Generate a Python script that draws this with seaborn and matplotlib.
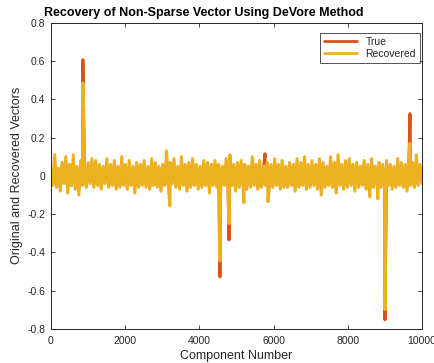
import numpy as np
import pandas as pd
import matplotlib
matplotlib.use("Agg")
import matplotlib.pyplot as plt
import seaborn as sns

# background noise, one value per ~50 components
true_noise = [
    0.02, -0.04, 0.05, -0.05, 0.03, -0.06, 0.05, -0.03, 0.06, -0.05,
    0.04, -0.05, 0.06, -0.04, 0.03, -0.06, 0.05, -0.04, 0.03, -0.05,
    0.05, -0.03, 0.06, -0.05, 0.05, -0.04, 0.04, -0.06, 0.03, -0.03,
    0.05, -0.05, 0.04, -0.04, 0.06, -0.05, 0.03, -0.05, 0.05, -0.04,
    0.04, -0.06, 0.05, -0.03, 0.04, -0.05, 0.05, -0.05, 0.04, -0.04,
    0.06, -0.04, 0.03, -0.06, 0.05, -0.04, 0.05, -0.05, 0.03, -0.06,
    0.04, -0.04, 0.06, -0.05, 0.05, -0.03, 0.06, -0.05, 0.04, -0.05,
    0.05, -0.04, 0.04, -0.06, 0.05, -0.05, 0.06, -0.04, 0.04, -0.05,
    0.03, -0.05, 0.05, -0.04, 0.05, -0.06, 0.04, -0.04, 0.06, -0.05,
    0.04, -0.05, 0.03, -0.04, 0.06, -0.05, 0.05, -0.04, 0.04, -0.06,
    0.05, -0.05, 0.06, -0.04, 0.04, -0.05, 0.03, -0.05, 0.06, -0.04,
    0.04, -0.06, 0.05, -0.05, 0.03, -0.04, 0.05, -0.06, 0.04, -0.05,
    0.06, -0.04, 0.04, -0.05, 0.05, -0.05, 0.03, -0.05, 0.05, -0.04,
    0.04, -0.06, 0.06, -0.05, 0.05, -0.04, 0.06, -0.05, 0.04, -0.05,
    0.05, -0.04, 0.04, -0.06, 0.06, -0.05, 0.05, -0.05, 0.03, -0.04,
    0.06, -0.05, 0.05, -0.06, 0.06, -0.04, 0.04, -0.05, 0.05, -0.05,
    0.06, -0.04, 0.04, -0.06, 0.05, -0.05, 0.03, -0.04, 0.05, -0.05,
    0.04, -0.06, 0.06, -0.05, 0.03, -0.04, 0.05, -0.05, 0.04, -0.05,
    0.05, -0.04, 0.04, -0.05, 0.03, -0.05, 0.06, -0.04, 0.05, -0.05,
    0.04, -0.06, 0.06, -0.04, 0.05, -0.05, 0.06, -0.04, 0.04, -0.03,
]
rec_noise = [
    0.03, -0.05, 0.11, -0.06, 0.04, -0.08, 0.07, -0.04, 0.10, -0.09,
    0.06, -0.05, 0.11, -0.07, 0.05, -0.10, 0.08, -0.05, 0.04, -0.06,
    0.07, -0.04, 0.09, -0.06, 0.08, -0.05, 0.06, -0.07, 0.05, -0.04,
    0.09, -0.06, 0.06, -0.05, 0.08, -0.07, 0.05, -0.06, 0.10, -0.05,
    0.06, -0.07, 0.08, -0.05, 0.05, -0.09, 0.07, -0.06, 0.06, -0.05,
    0.08, -0.06, 0.05, -0.07, 0.09, -0.05, 0.07, -0.06, 0.05, -0.08,
    0.06, -0.05, 0.13, -0.06, 0.07, -0.04, 0.09, -0.06, 0.05, -0.07,
    0.10, -0.05, 0.06, -0.08, 0.07, -0.06, 0.09, -0.05, 0.06, -0.07,
    0.05, -0.06, 0.08, -0.05, 0.07, -0.09, 0.06, -0.05, 0.08, -0.06,
    0.06, -0.07, 0.05, -0.05, 0.09, -0.06, 0.11, -0.05, 0.06, -0.08,
    0.07, -0.06, 0.08, -0.05, 0.06, -0.07, 0.05, -0.06, 0.10, -0.05,
    0.06, -0.07, 0.08, -0.06, 0.05, -0.05, 0.07, -0.08, 0.06, -0.06,
    0.09, -0.05, 0.06, -0.07, 0.08, -0.06, 0.05, -0.06, 0.07, -0.05,
    0.06, -0.08, 0.09, -0.06, 0.07, -0.05, 0.10, -0.07, 0.06, -0.06,
    0.08, -0.05, 0.06, -0.07, 0.09, -0.10, 0.07, -0.06, 0.05, -0.05,
    0.10, -0.06, 0.07, -0.09, 0.11, -0.05, 0.06, -0.07, 0.08, -0.06,
    0.09, -0.05, 0.06, -0.08, 0.07, -0.06, 0.05, -0.05, 0.08, -0.07,
    0.06, -0.11, 0.09, -0.06, 0.05, -0.05, 0.07, -0.06, 0.06, -0.07,
    0.08, -0.05, 0.06, -0.07, 0.05, -0.06, 0.09, -0.05, 0.07, -0.06,
    0.06, -0.08, 0.10, -0.05, 0.07, -0.06, 0.11, -0.05, 0.06, -0.04,
]

# large entries (component index, true value, recovered value)
spike_pos = [862, 3207, 4555, 4800, 5200, 5770, 5850, 8810, 9003, 9677]
spike_true = [0.607, -0.05, -0.528, -0.335, -0.05, 0.115, -0.05, -0.05, -0.752, 0.325]
spike_rec = [0.486, -0.157, -0.444, -0.25, -0.14, 0.05, -0.135, -0.12, -0.70, 0.17]

C_TRUE = "#D95319"
C_REC = "#EDB120"
INK = "#262626"

sns.set_theme(style="white")
plt.rcParams["font.family"] = ["Liberation Sans", "DejaVu Sans"]

x = np.concatenate([np.linspace(1, 10000, len(true_noise)), spike_pos])
order = np.argsort(x, kind="stable")
df = pd.DataFrame({
    "comp": x[order],
    "true": np.concatenate([true_noise, spike_true])[order],
    "rec": np.concatenate([rec_noise, spike_rec])[order],
})

fig = plt.figure(figsize=(4.35, 3.63), dpi=100)
ax = fig.add_axes([0.117, 0.094, 0.853, 0.843])

sns.lineplot(data=df, x="comp", y="true", color=C_TRUE, lw=2.2, sort=False,
             estimator=None, ax=ax, label="True")
sns.lineplot(data=df, x="comp", y="rec", color=C_REC, lw=2.2, sort=False,
             estimator=None, ax=ax, label="Recovered")

ax.set_xlim(0, 10000)
ax.set_ylim(-0.8, 0.8)
yt = np.round(np.arange(-0.8, 0.81, 0.2), 1)
ax.set_xticks(np.arange(0, 10001, 2000))
ax.set_yticks(yt)
ax.set_yticklabels([f"{v:g}" if v != 0 else "0" for v in yt])

for s in ax.spines.values():
    s.set_color(INK)
    s.set_linewidth(0.7)
ax.tick_params(direction="in", length=3, width=0.6, colors=INK,
               labelsize=7.5, top=True, right=True, bottom=True, left=True,
               labelcolor=INK)
ax.tick_params(axis="x", pad=5)
ax.tick_params(axis="y", pad=4)

ax.set_xlabel("Component Number", fontsize=9, color=INK, labelpad=3)
ax.set_ylabel("Original and Recovered Vectors", fontsize=9, color=INK, labelpad=3)
ax.text(0.412, 1.012, "Recovery of Non-Sparse Vector Using DeVore Method",
        transform=ax.transAxes, ha="center", va="bottom",
        fontsize=9, fontweight="bold", color="black")

leg = ax.legend(loc="upper right", fontsize=7.5, frameon=True, fancybox=False,
                handlelength=3.2, borderpad=0.4, labelspacing=0.2,
                borderaxespad=0, bbox_to_anchor=(0.995, 0.968))
leg.get_frame().set_edgecolor(INK)
leg.get_frame().set_linewidth(0.7)
for ln in leg.get_lines():
    ln.set_linewidth(2)

fig.savefig("out.png", dpi=100)
